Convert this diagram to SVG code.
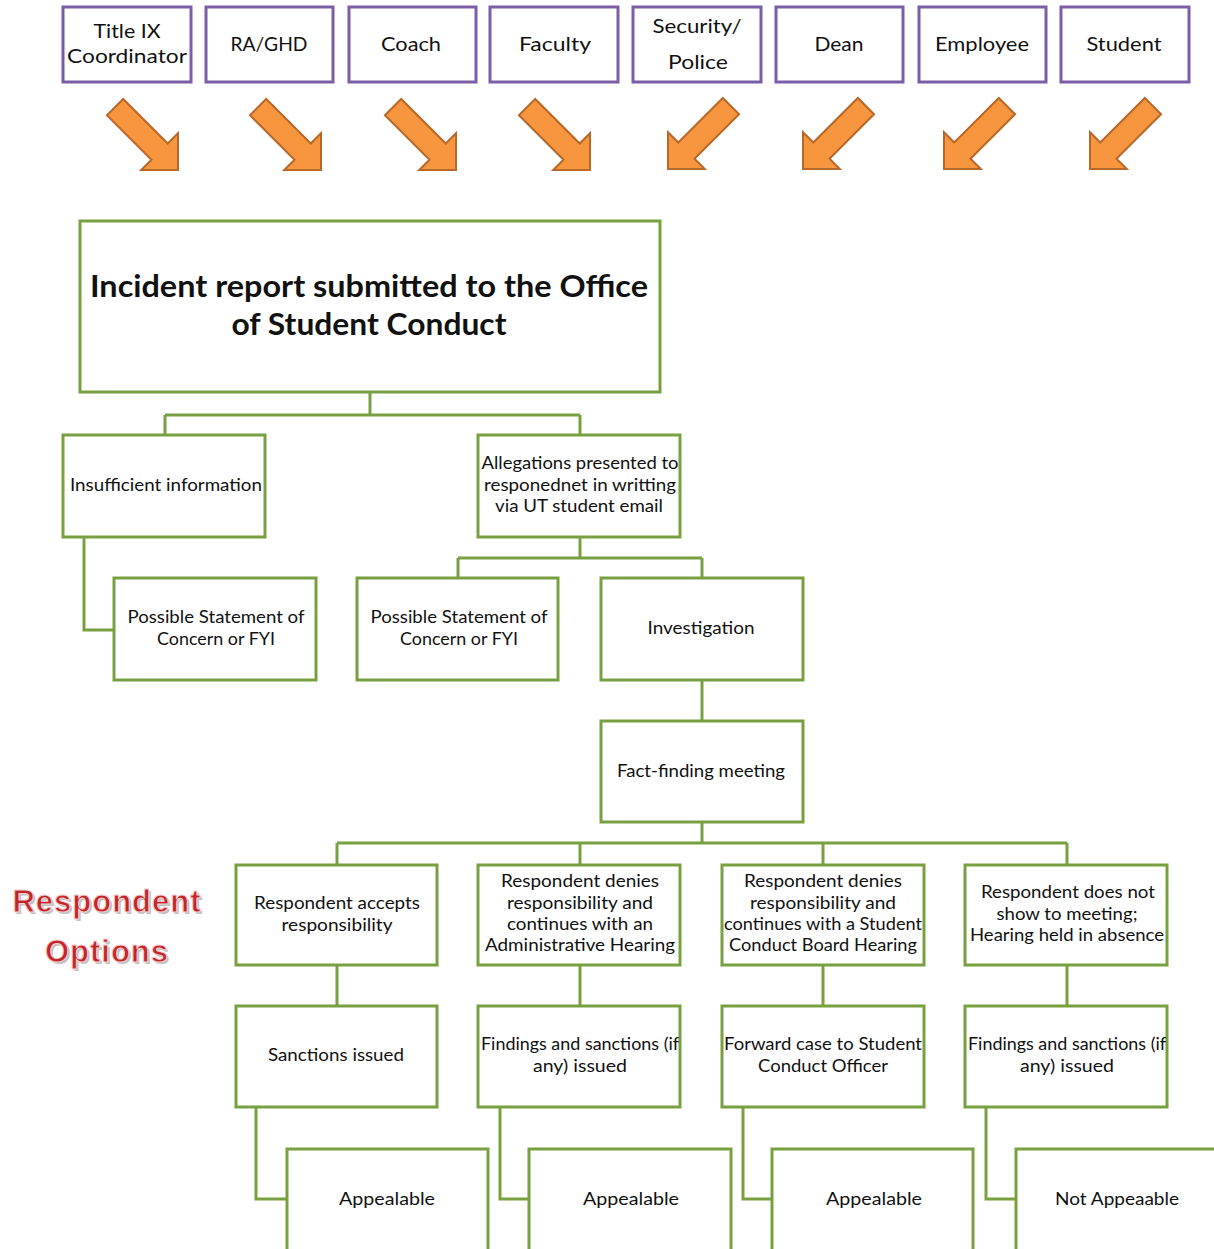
<svg xmlns="http://www.w3.org/2000/svg" width="1214" height="1249" viewBox="0 0 1214 1249">
<defs>
<style>
.src{fill:#fff;stroke:#7B5EA6;stroke-width:3}
.box{fill:#fff;stroke:#78A040;stroke-width:3}
.con{fill:none;stroke:#78A040;stroke-width:3}
.arr{fill:#F7963E;stroke:#B8692A;stroke-width:2;stroke-linejoin:miter}
.t{font-family:Lato,"Open Sans","Liberation Sans",sans-serif;fill:#111;text-anchor:middle}
.s{font-size:20px}
.n{font-size:16.5px}
.main{font-size:30px;font-weight:bold}
.ro{font-family:"Liberation Sans",Arial,sans-serif;font-weight:bold;font-size:31px;text-anchor:middle;letter-spacing:1px}
</style>
<path id="ar" d="M0,0 L-26,-26 L-26,-11.5 L-89,-11.5 L-89,11.5 L-26,11.5 L-26,26 Z"/>
</defs>
<rect width="1214" height="1249" fill="#fff"/>

<g id="connectors">
<path class="con" d="M370,392 V415 M165,415 H580 M165,415 V435 M580,415 V435"/>
<path class="con" d="M84,537 V630 H114"/>
<path class="con" d="M580,537 V558 M458,558 H702 M458,558 V578 M702,558 V578"/>
<path class="con" d="M702,680 V721"/>
<path class="con" d="M702,822 V843 M337,843 H1067 M337,843 V865 M580,843 V865 M823,843 V865 M1067,843 V865"/>
<path class="con" d="M337,965 V1006 M580,965 V1006 M823,965 V1006 M1067,965 V1006"/>
<path class="con" d="M256,1107 V1199 H287 M500,1107 V1199 H529 M743,1107 V1199 H772 M986,1107 V1199 H1016"/>
</g>

<g id="arrows">
<use href="#ar" class="arr" transform="translate(178,170) rotate(45)"/>
<use href="#ar" class="arr" transform="translate(321,170) rotate(45)"/>
<use href="#ar" class="arr" transform="translate(456,170) rotate(45)"/>
<use href="#ar" class="arr" transform="translate(590,170) rotate(45)"/>
<use href="#ar" class="arr" transform="translate(668,169) rotate(135)"/>
<use href="#ar" class="arr" transform="translate(803,169) rotate(135)"/>
<use href="#ar" class="arr" transform="translate(944,169) rotate(135)"/>
<use href="#ar" class="arr" transform="translate(1090,169) rotate(135)"/>
</g>

<g id="src-title9"><rect class="src" x="63" y="7" width="128" height="75"/><text class="t s" x="127" y="38" textLength="67" lengthAdjust="spacingAndGlyphs">Title IX</text><text class="t s" x="127" y="63" textLength="120" lengthAdjust="spacingAndGlyphs">Coordinator</text></g>
<g id="src-ra"><rect class="src" x="206" y="7" width="127" height="75"/><text class="t s" x="269" y="51" textLength="77" lengthAdjust="spacingAndGlyphs">RA/GHD</text></g>
<g id="src-coach"><rect class="src" x="349" y="7" width="127" height="75"/><text class="t s" x="411" y="51" textLength="60" lengthAdjust="spacingAndGlyphs">Coach</text></g>
<g id="src-faculty"><rect class="src" x="490" y="7" width="128" height="75"/><text class="t s" x="555" y="51" textLength="72" lengthAdjust="spacingAndGlyphs">Faculty</text></g>
<g id="src-security"><rect class="src" x="633" y="7" width="128" height="75"/><text class="t s" x="697" y="33" textLength="89" lengthAdjust="spacingAndGlyphs">Security/</text><text class="t s" x="698" y="69" textLength="60" lengthAdjust="spacingAndGlyphs">Police</text></g>
<g id="src-dean"><rect class="src" x="776" y="7" width="127" height="75"/><text class="t s" x="839" y="51" textLength="49" lengthAdjust="spacingAndGlyphs">Dean</text></g>
<g id="src-employee"><rect class="src" x="919" y="7" width="127" height="75"/><text class="t s" x="982" y="51" textLength="94" lengthAdjust="spacingAndGlyphs">Employee</text></g>
<g id="src-student"><rect class="src" x="1061" y="7" width="128" height="75"/><text class="t s" x="1124" y="51" textLength="75" lengthAdjust="spacingAndGlyphs">Student</text></g>

<g id="incident"><rect class="box" x="80" y="221" width="580" height="171"/><text class="t main" x="369" y="297" textLength="558" lengthAdjust="spacingAndGlyphs">Incident report submitted to the Office</text><text class="t main" x="369" y="335" textLength="275" lengthAdjust="spacingAndGlyphs">of Student Conduct</text></g>

<g id="insufficient"><rect class="box" x="63" y="435" width="202" height="102"/><text class="t n" x="166" y="491" textLength="192" lengthAdjust="spacingAndGlyphs">Insufficient information</text></g>
<g id="allegations"><rect class="box" x="478" y="435" width="202" height="102"/><text class="t n" x="580" y="469" textLength="197" lengthAdjust="spacingAndGlyphs">Allegations presented to</text><text class="t n" x="580" y="491" textLength="192" lengthAdjust="spacingAndGlyphs">responednet in writting</text><text class="t n" x="579" y="512" textLength="168" lengthAdjust="spacingAndGlyphs">via UT student email</text></g>

<g id="statement1"><rect class="box" x="114" y="578" width="202" height="102"/><text class="t n" x="216" y="623" textLength="177" lengthAdjust="spacingAndGlyphs">Possible Statement of</text><text class="t n" x="216" y="645" textLength="118" lengthAdjust="spacingAndGlyphs">Concern or FYI</text></g>
<g id="statement2"><rect class="box" x="357" y="578" width="201" height="102"/><text class="t n" x="459" y="623" textLength="177" lengthAdjust="spacingAndGlyphs">Possible Statement of</text><text class="t n" x="459" y="645" textLength="118" lengthAdjust="spacingAndGlyphs">Concern or FYI</text></g>
<g id="investigation"><rect class="box" x="601" y="578" width="202" height="102"/><text class="t n" x="701" y="634" textLength="107" lengthAdjust="spacingAndGlyphs">Investigation</text></g>
<g id="factfinding"><rect class="box" x="601" y="721" width="202" height="101"/><text class="t n" x="701" y="777" textLength="168" lengthAdjust="spacingAndGlyphs">Fact-finding meeting</text></g>

<g id="respondent-options"><text class="ro" x="109" y="914" fill="#999" opacity="0.6">Respondent</text><text class="ro" x="109" y="964" fill="#999" opacity="0.6">Options</text><text class="ro" x="107" y="912" fill="#C2262B" stroke="#f4d0d0" stroke-width="1">Respondent</text><text class="ro" x="107" y="962" fill="#C2262B" stroke="#f4d0d0" stroke-width="1">Options</text></g>

<g id="accepts"><rect class="box" x="236" y="865" width="201" height="100"/><text class="t n" x="337" y="909" textLength="166" lengthAdjust="spacingAndGlyphs">Respondent accepts</text><text class="t n" x="337" y="931" textLength="111" lengthAdjust="spacingAndGlyphs">responsibility</text></g>
<g id="denies-admin"><rect class="box" x="478" y="865" width="202" height="100"/><text class="t n" x="580" y="887" textLength="158" lengthAdjust="spacingAndGlyphs">Respondent denies</text><text class="t n" x="580" y="909" textLength="146" lengthAdjust="spacingAndGlyphs">responsibility and</text><text class="t n" x="580" y="930" textLength="146" lengthAdjust="spacingAndGlyphs">continues with an</text><text class="t n" x="580" y="951" textLength="190" lengthAdjust="spacingAndGlyphs">Administrative Hearing</text></g>
<g id="denies-board"><rect class="box" x="722" y="865" width="202" height="100"/><text class="t n" x="823" y="887" textLength="158" lengthAdjust="spacingAndGlyphs">Respondent denies</text><text class="t n" x="823" y="909" textLength="146" lengthAdjust="spacingAndGlyphs">responsibility and</text><text class="t n" x="823" y="930" textLength="198" lengthAdjust="spacingAndGlyphs">continues with a Student</text><text class="t n" x="823" y="951" textLength="188" lengthAdjust="spacingAndGlyphs">Conduct Board Hearing</text></g>
<g id="no-show"><rect class="box" x="965" y="865" width="202" height="100"/><text class="t n" x="1068" y="898" textLength="174" lengthAdjust="spacingAndGlyphs">Respondent does not</text><text class="t n" x="1067" y="920" textLength="141" lengthAdjust="spacingAndGlyphs">show to meeting;</text><text class="t n" x="1067" y="941" textLength="194" lengthAdjust="spacingAndGlyphs">Hearing held in absence</text></g>

<g id="sanctions"><rect class="box" x="236" y="1006" width="201" height="101"/><text class="t n" x="336" y="1061" textLength="136" lengthAdjust="spacingAndGlyphs">Sanctions issued</text></g>
<g id="findings1"><rect class="box" x="478" y="1006" width="202" height="101"/><text class="t n" x="580" y="1050" textLength="198" lengthAdjust="spacingAndGlyphs">Findings and sanctions (if</text><text class="t n" x="580" y="1072" textLength="94" lengthAdjust="spacingAndGlyphs">any) issued</text></g>
<g id="forward"><rect class="box" x="722" y="1006" width="202" height="101"/><text class="t n" x="823" y="1050" textLength="198" lengthAdjust="spacingAndGlyphs">Forward case to Student</text><text class="t n" x="823" y="1072" textLength="130" lengthAdjust="spacingAndGlyphs">Conduct Officer</text></g>
<g id="findings2"><rect class="box" x="965" y="1006" width="202" height="101"/><text class="t n" x="1067" y="1050" textLength="198" lengthAdjust="spacingAndGlyphs">Findings and sanctions (if</text><text class="t n" x="1067" y="1072" textLength="94" lengthAdjust="spacingAndGlyphs">any) issued</text></g>

<g id="appeal1"><rect class="box" x="287" y="1149" width="201" height="110"/><text class="t n" x="387" y="1205" textLength="96" lengthAdjust="spacingAndGlyphs">Appealable</text></g>
<g id="appeal2"><rect class="box" x="529" y="1149" width="202" height="110"/><text class="t n" x="631" y="1205" textLength="96" lengthAdjust="spacingAndGlyphs">Appealable</text></g>
<g id="appeal3"><rect class="box" x="772" y="1149" width="201" height="110"/><text class="t n" x="874" y="1205" textLength="96" lengthAdjust="spacingAndGlyphs">Appealable</text></g>
<g id="not-appeal"><rect class="box" x="1016" y="1149" width="210" height="110"/><text class="t n" x="1117" y="1205" textLength="124" lengthAdjust="spacingAndGlyphs">Not Appeaable</text></g>
</svg>
